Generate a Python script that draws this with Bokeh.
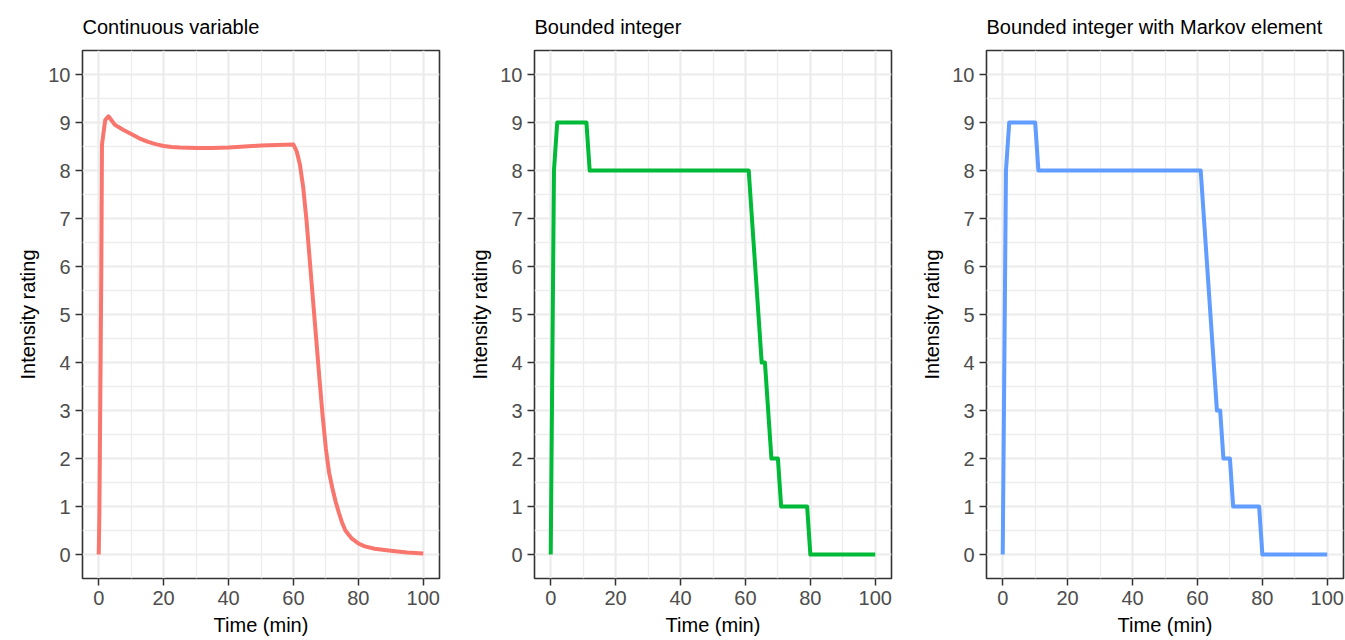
from bokeh.plotting import figure
from bokeh.layouts import row
from bokeh.models import Range1d, FixedTicker
from bokeh.embed import file_html
from bokeh.resources import INLINE

# ---- data ----
panel_titles = ["Continuous variable", "Bounded integer", "Bounded integer with Markov element"]
series_colors = ["#F8766D", "#00BA38", "#619CFF"]

cont_time = [0, 0.2, 0.4, 0.6, 0.8, 1, 2, 3, 5, 7.5, 10, 12.5, 15, 17.5, 20, 22.5, 25, 30, 35, 40,
             45, 50, 55, 60, 61, 62, 63, 64, 65, 66, 67, 68, 69, 70, 71, 72, 73, 74, 75, 76, 78,
             80, 82, 85, 90, 95, 100]
cont_value = [0, 0.84, 2.54, 4.2, 5.94, 8.54, 9.05, 9.13, 8.95, 8.85, 8.76, 8.67, 8.6, 8.55, 8.51,
              8.49, 8.48, 8.47, 8.47, 8.48, 8.5, 8.52, 8.53, 8.54, 8.4, 8.12, 7.65, 6.98, 6.15,
              5.32, 4.5, 3.67, 2.88, 2.2, 1.7, 1.38, 1.1, 0.87, 0.66, 0.5, 0.33, 0.23, 0.17,
              0.12, 0.08, 0.04, 0.02]

int_time = [0, 1, 2, 11, 12, 61, 65, 66, 68, 70, 71, 79, 80, 100]
int_value = [0, 8, 9, 9, 8, 8, 4, 4, 2, 2, 1, 1, 0, 0]

markov_time = [0, 1, 2, 10, 11, 61, 66, 67, 68, 70, 71, 79, 80, 100]
markov_value = [0, 8, 9, 9, 8, 8, 3, 3, 2, 2, 1, 1, 0, 0]

x_ticks = [0, 20, 40, 60, 80, 100]
x_minor = [10, 30, 50, 70, 90]
y_ticks = [0, 1, 2, 3, 4, 5, 6, 7, 8, 9, 10]
y_minor = [0.5, 1.5, 2.5, 3.5, 4.5, 5.5, 6.5, 7.5, 8.5, 9.5]

x_label = "Time (min)"
y_label = "Intensity rating"

FONT = "Liberation Sans"


def make_panel(title, xs, ys, color, right_border):
    p = figure(frame_width=357, frame_height=528, output_backend="svg", toolbar_location=None,
               x_range=Range1d(-5, 105), y_range=Range1d(-0.5, 10.5),
               min_border_left=82, min_border_right=right_border,
               min_border_top=50, min_border_bottom=62)
    p.title.text = title
    p.title.text_font = FONT
    p.title.text_font_size = "20px"
    p.title.text_font_style = "normal"
    p.title.text_color = "#000000"
    p.title.align = "left"
    p.title.standoff = 25

    xt = FixedTicker(ticks=x_ticks, minor_ticks=x_minor)
    yt = FixedTicker(ticks=y_ticks, minor_ticks=y_minor)
    p.xaxis.ticker = xt
    p.yaxis.ticker = yt
    p.xgrid.ticker = xt
    p.ygrid.ticker = yt

    for g in (p.xgrid, p.ygrid):
        g.grid_line_color = "#EBEBEB"
        g.grid_line_width = 2.2
        g.minor_grid_line_color = "#EDEDED"
        g.minor_grid_line_width = 1.4

    for ax in (p.xaxis, p.yaxis):
        ax.axis_line_color = None
        ax.major_tick_line_color = "#333333"
        ax.major_tick_line_width = 1.5
        ax.major_tick_out = 7
        ax.major_tick_in = 0
        ax.minor_tick_line_color = None
        ax.major_label_text_font = FONT
        ax.major_label_text_font_size = "20px"
        ax.major_label_text_color = "#4D4D4D"
        ax.major_label_standoff = 5
        ax.axis_label_text_font = FONT
        ax.axis_label_text_font_size = "20px"
        ax.axis_label_text_font_style = "normal"
        ax.axis_label_text_color = "#000000"
        ax.axis_label_standoff = 6

    p.xaxis.axis_label = x_label
    p.yaxis.axis_label = y_label

    p.outline_line_color = "#333333"
    p.outline_line_width = 1.6
    p.background_fill_color = "white"
    p.border_fill_color = "white"

    p.line(xs, ys, line_color=color, line_width=4, line_join="round", line_cap="butt")
    return p


p1 = make_panel(panel_titles[0], cont_time, cont_value, series_colors[0], 13)
p2 = make_panel(panel_titles[1], int_time, int_value, series_colors[1], 13)
p3 = make_panel(panel_titles[2], markov_time, markov_value, series_colors[2], 2)

layout = row(p1, p2, p3)
open("out.html", "w").write(file_html(layout, INLINE))
